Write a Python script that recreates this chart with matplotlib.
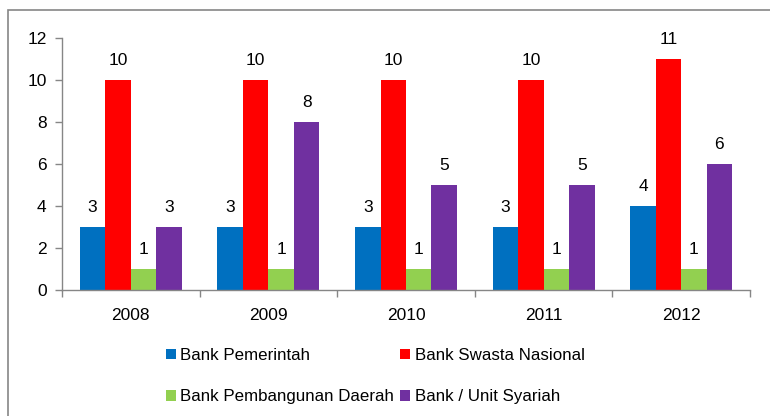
import numpy as np
import matplotlib
matplotlib.use("Agg")
import matplotlib.pyplot as plt
from matplotlib.patches import Rectangle

plt.rcParams['font.family'] = ['Liberation Sans', 'DejaVu Sans']

# data
years = ['2008', '2009', '2010', '2011', '2012']
series_names = ['Bank Pemerintah', 'Bank Swasta Nasional',
                'Bank Pembangunan Daerah', 'Bank / Unit Syariah']
pemerintah = [3, 3, 3, 3, 4]
swasta = [10, 10, 10, 10, 11]
pembangunan = [1, 1, 1, 1, 1]
syariah = [3, 8, 5, 5, 6]
colors = ['#0070C0', '#FF0000', '#92D050', '#7030A0']

values = [pemerintah, swasta, pembangunan, syariah]
fs = 12.5

fig = plt.figure(figsize=(7.7, 4.16), dpi=100)
ax = fig.add_axes([62 / 770, 1 - 290 / 416, (750 - 62) / 770, (290 - 38) / 416])

grey = '#868686'
x = np.arange(len(years))
w = 0.185
bars = []
for i, (vals, col, name) in enumerate(zip(values, colors, series_names)):
    b = ax.bar(x + (i - 1.5) * w, vals, w, color=col, label=name)
    bars.append(b)
    for xi, v in zip(x, vals):
        ax.annotate(str(v), (xi + (i - 1.5) * w, v), xytext=(0, 14),
                    textcoords='offset points', ha='center', va='center',
                    fontsize=fs, color='black')

ax.set_xlim(-0.5, len(years) - 0.5)
ax.set_ylim(0, 12)
ax.set_yticks(range(0, 13, 2))
ax.set_xticks(x)
ax.set_xticklabels(years)
ax.set_xticks(np.arange(-0.5, len(years), 1), minor=True)
ax.tick_params(axis='x', which='major', length=0, pad=13, labelsize=fs)
ax.tick_params(axis='x', which='minor', length=5, color=grey, width=1)
ax.tick_params(axis='y', length=5, color=grey, width=1, pad=6, labelsize=fs)
for s in ['top', 'right']:
    ax.spines[s].set_visible(False)
for s in ['left', 'bottom']:
    ax.spines[s].set_color(grey)
    ax.spines[s].set_linewidth(1)

# legend, filled row-wise like the original
order = [0, 2, 1, 3]
leg = fig.legend([bars[k] for k in order], [series_names[k] for k in order],
                 ncol=2, loc='upper left', bbox_to_anchor=(166 / 770, 1 - 348 / 416),
                 frameon=False, fontsize=12.2, handlelength=0.6, handleheight=0.6,
                 handletextpad=0.25, columnspacing=0.35, labelspacing=1.55,
                 borderpad=0, borderaxespad=0)

# outer chart border
fig.patches.append(Rectangle((8 / 770, -0.1), 1.2, 1.1 - 10 / 416, transform=fig.transFigure,
                             fill=False, edgecolor=grey, linewidth=1.2))

fig.savefig('out.png', dpi=100)
